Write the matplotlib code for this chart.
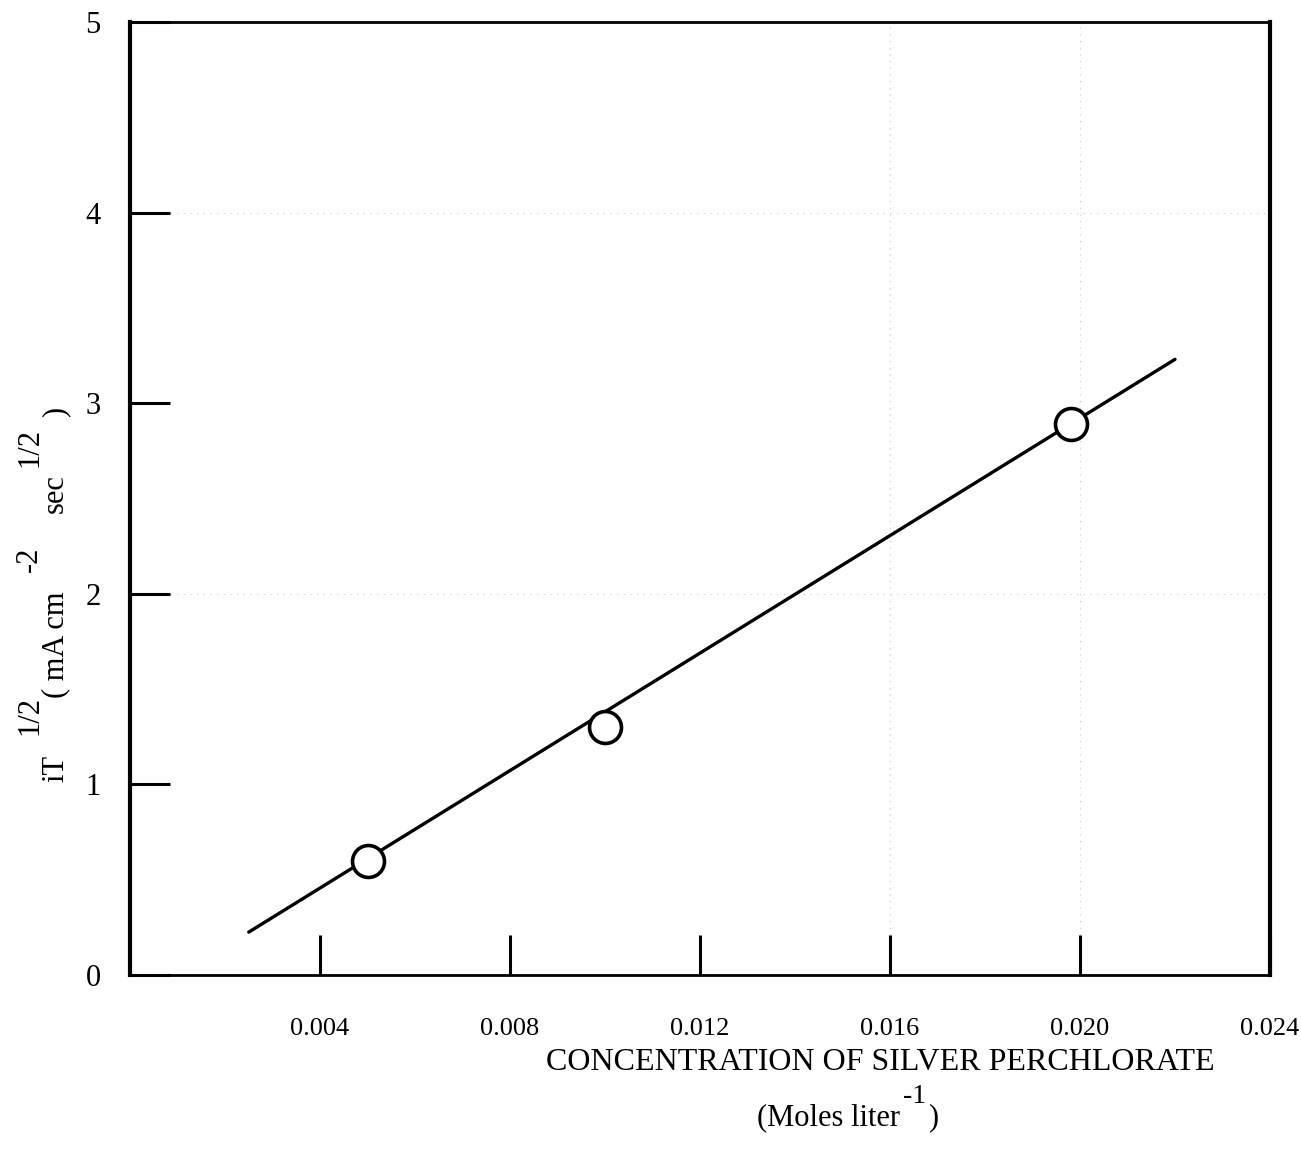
import matplotlib
matplotlib.use("Agg")
import matplotlib.pyplot as plt

# Measured points: concentration (mol/L) vs i*tau^(1/2)
conc = [0.0050, 0.0100, 0.0198]
it_half = [0.60, 1.30, 2.89]

# Straight line through the data
fit_x = [0.0025, 0.0220]
fit_y = [0.225, 3.23]

x_ticks = [0.004, 0.008, 0.012, 0.016, 0.020, 0.024]
x_tick_labels = ["0.004", "0.008", "0.012", "0.016", "0.020", "0.024"]
y_ticks = [0, 1, 2, 3, 4, 5]
y_tick_labels = ["0", "1", "2", "3", "4", "5"]

# faint graph-paper rules
faint_h = [2, 4]
faint_v = [0.016, 0.020]

W, H = 1301, 1156
plt.rcParams["font.family"] = ["Liberation Serif", "DejaVu Serif"]

fig = plt.figure(figsize=(W / 100, H / 100), dpi=100)
ax = fig.add_axes([130 / W, 1 - 975 / H, 1140 / W, (975 - 22) / H])


def fx(px):
    return px / W


def fy(py):
    return 1 - py / H


for yv in faint_h:
    ax.axhline(yv, color="#c8c8c8", lw=0.8, ls=(0, (1, 5)), zorder=0)
for xv in faint_v:
    ax.axvline(xv, color="#c8c8c8", lw=0.8, ls=(0, (1, 5)), zorder=0)

ax.plot(fit_x, fit_y, color="black", lw=2.4, solid_capstyle="round", zorder=2)
ax.plot(conc, it_half, ls="none", marker="o", ms=23, mfc="white",
        mec="black", mew=2.6, zorder=3)

ax.set_xlim(0, 0.02392)
ax.set_ylim(0, 4.985)

ax.set_xticks(x_ticks)
ax.set_xticklabels(x_tick_labels, fontsize=19)
ax.set_yticks(y_ticks)
ax.set_yticklabels(y_tick_labels, fontsize=22)
ax.tick_params(axis="x", direction="in", length=29, width=2.2, pad=31)
ax.tick_params(axis="y", direction="in", length=29, width=2.2, pad=21)

for side, lw in (("left", 3.0), ("right", 3.0), ("top", 2.0), ("bottom", 2.0)):
    ax.spines[side].set_linewidth(lw)

# x-axis title, two lines, typewriter-style superscript
fig.text(fx(880), fy(1062), "CONCENTRATION OF SILVER PERCHLORATE",
         ha="center", va="center", fontsize=23)
fig.text(fx(900), fy(1125), "(Moles liter", ha="right", va="baseline",
         fontsize=22)
fig.text(fx(903), fy(1103), "-1", ha="left", va="baseline", fontsize=20)
fig.text(fx(928), fy(1125), ")", ha="left", va="baseline", fontsize=22)

# y-axis title, read bottom to top; superscripts sit at full size, raised
y_title = [
    ("iT", 63, 782),
    ("1/2", 37, 735),
    ("( mA cm", 63, 698),
    ("-2", 37, 572),
    ("sec", 63, 513),
    ("1/2", 37, 467),
    (")", 63, 417),
]
for txt, bx, sy in y_title:
    fig.text(fx(bx), fy(sy), txt, rotation=90, rotation_mode="anchor",
             ha="left", va="baseline", fontsize=22)

fig.savefig("out.png", dpi=100)
